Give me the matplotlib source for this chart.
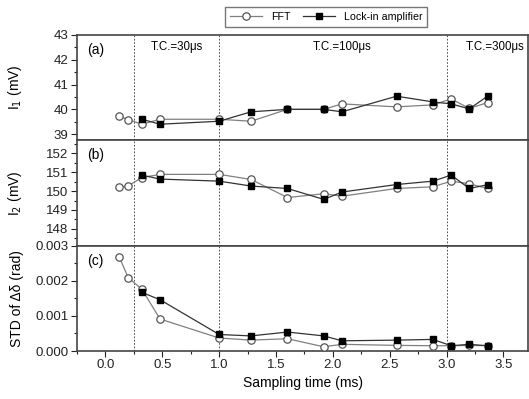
import matplotlib
matplotlib.use('Agg')
import matplotlib.pyplot as plt
from matplotlib.ticker import MultipleLocator, FormatStrFormatter

plt.rcParams['font.family'] = ['Liberation Sans', 'DejaVu Sans']
plt.rcParams['font.size'] = 9.5

# sampling times (ms)
t_fft = [0.12, 0.20, 0.32, 0.48, 1.00, 1.28, 1.60, 1.92, 2.08, 2.56, 2.88, 3.04, 3.20, 3.36]
t_lock = [0.32, 0.48, 1.00, 1.28, 1.60, 1.92, 2.08, 2.56, 2.88, 3.04, 3.20, 3.36]

# (a) I1 (mV)
i1_fft = [39.72, 39.59, 39.4, 39.6, 39.6, 39.52, 40.0, 40.0, 40.22, 40.1, 40.18, 40.42, 40.04, 40.27]
i1_lock = [39.6, 39.4, 39.52, 39.9, 40.0, 40.0, 39.9, 40.53, 40.3, 40.22, 40.02, 40.53]

# (b) I2 (mV)
i2_fft = [150.2, 150.28, 150.72, 150.89, 150.89, 150.62, 149.66, 149.86, 149.73, 150.14, 150.23, 150.53, 150.39, 150.14]
i2_lock = [150.85, 150.64, 150.53, 150.27, 150.14, 149.56, 149.95, 150.35, 150.53, 150.85, 150.14, 150.34]

# (c) STD of delta (rad)
std_fft = [0.00269, 0.00209, 0.00176, 0.00091, 0.00037, 0.00031, 0.00035, 0.00012, 0.00019, 0.00016, 0.00015, 0.00015, 0.00016, 0.00015]
std_lock = [0.00167, 0.00146, 0.00047, 0.00043, 0.00054, 0.00043, 0.00029, 0.00031, 0.00033, 0.00015, 0.00019, 0.00015]

tc_lines = [0.25, 1.0, 3.0]
tc_labels = ['T.C.=30\u03bcs', 'T.C.=100\u03bcs', 'T.C.=300\u03bcs']
tc_pos = [0.63, 2.08, 3.43]

fig = plt.figure(figsize=(5.29, 3.99), dpi=100)
gs = fig.add_gridspec(3, 1, left=0.1456, right=0.999, top=0.9123, bottom=0.1203, hspace=0)
axes = [fig.add_subplot(gs[i]) for i in range(3)]

panels = [
    (i1_fft, i1_lock, (38.75, 43), 1, 0.5, 'I$_1$ (mV)', '(a)'),
    (i2_fft, i2_lock, (147.1, 152.7), 1, 0.5, 'I$_2$ (mV)', '(b)'),
    (std_fft, std_lock, (0, 0.003), 0.001, 0.0005, 'STD of \u0394\u03b4 (rad)', '(c)'),
]

for ax, (yf, yl, ylim, maj, mnr, ylab, tag) in zip(axes, panels):
    lf, = ax.plot(t_fft, yf, '-o', color='#808080', lw=0.9, ms=5.3, mfc='white',
                  mec='#555555', mew=0.9, label='FFT', zorder=3)
    ll, = ax.plot(t_lock, yl, '-s', color='#333333', lw=0.9, ms=4.6, mfc='black',
                  mec='black', label='Lock-in amplifier', zorder=4)
    for x in tc_lines:
        ax.axvline(x, color='#333333', ls=(0, (2, 2)), lw=0.6, zorder=1)
    ax.set_xlim(-0.25, 3.72)
    ax.set_ylim(*ylim)
    ax.yaxis.set_major_locator(MultipleLocator(maj))
    ax.yaxis.set_minor_locator(MultipleLocator(mnr))
    ax.xaxis.set_major_locator(MultipleLocator(0.5))
    ax.xaxis.set_minor_locator(MultipleLocator(0.25))
    ax.tick_params(which='both', direction='out', right=False, top=False, colors='#222222',
                   labelsize=9.5, pad=2)
    ax.tick_params(which='major', length=4, width=0.8)
    ax.tick_params(which='minor', length=2.5, width=0.8)
    ax.set_ylabel(ylab, fontsize=10)
    ax.yaxis.set_label_coords(-0.118, 0.5)
    for s in ax.spines.values():
        s.set_color('#444444')
        s.set_linewidth(1.2)
    ax.text(0.022, 0.82, tag, transform=ax.transAxes, fontsize=10)

axes[2].yaxis.set_major_formatter(FormatStrFormatter('%.3f'))
for ax in axes[:2]:
    ax.tick_params(axis='x', which='both', bottom=False, labelbottom=False)
axes[2].set_xlabel('Sampling time (ms)', fontsize=10, labelpad=3)

for lab, x in zip(tc_labels, tc_pos):
    axes[0].text(x, 42.5, lab, ha='center', va='center', fontsize=8.3)

fig.legend(handles=[lf, ll], loc='upper center', bbox_to_anchor=(0.617, 0.995), ncol=2,
           frameon=True, fancybox=False, edgecolor='#555555', fontsize=7.7,
           handlelength=3, columnspacing=1.2, borderpad=0.45)

fig.savefig('out.png', dpi=100)
